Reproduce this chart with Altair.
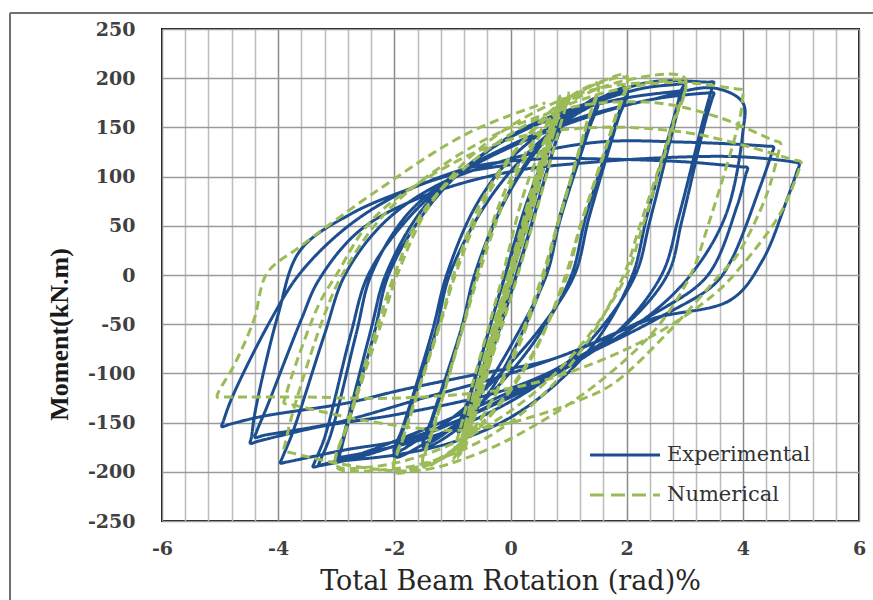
import altair as alt
import pandas as pd

# ---------------- data ----------------
exp_rotation = [
    0.00, 0.25, 0.45, 0.30, 0.00, -0.25, -0.40, -0.25, 0.00,
    0.35, 0.60, 0.40, 0.00, -0.35, -0.55, -0.35, 0.00,
    0.40, 0.75, 0.55, 0.05, -0.35, -0.70, -0.50, 0.00,
    0.45, 0.80, 0.95, 0.80, 0.20, -0.30, -0.75, -0.90, -0.72, -0.15,
    0.40, 0.80, 0.95, 0.78, 0.22, -0.30, -0.78, -0.92, -0.72, -0.12,
    0.35, 0.85, 1.20, 1.50, 1.35, 0.85, 0.60, 0.15, -0.40, -0.95, -1.50, -1.35, -0.85, -0.60,
    -0.10, 0.50, 1.00, 1.50, 1.35, 0.85, 0.62, 0.10, -0.50, -1.00, -1.50, -1.35, -0.85, -0.62,
    -0.15, 0.40, 1.00, 1.50, 2.00, 1.85, 1.30, 1.05, 0.50, -0.20, -0.90, -1.50, -2.00, -1.85, -1.30, -1.05,
    -0.50, 0.10, 0.80, 1.40, 2.00, 1.85, 1.35, 1.10, 0.50, -0.30, -1.00, -1.60, -2.00, -1.85, -1.35, -1.10,
    -0.60, 0.00, 0.80, 1.60, 2.30, 2.90, 3.00, 2.95, 2.85, 2.35, 2.10, 1.50, 0.70, -0.10, -1.00, -2.00, -2.90, -3.00, -2.95, -2.85, -2.35, -2.10,
    -1.50, -0.80, 0.00, 1.00, 2.00, 2.90, 3.00, 2.95, 2.85, 2.40, 2.15, 1.50, 0.70, -0.30, -1.30, -2.20, -2.90, -3.00, -2.95, -2.85, -2.40, -2.15,
    -1.50, -0.70, 0.20, 1.20, 2.40, 3.40, 3.50, 3.47, 3.35, 2.90, 2.60, 1.80, 0.80, -0.40, -1.60, -2.60, -3.30, -3.40, -3.37, -3.20, -2.75, -2.45,
    -1.80, -1.00, 0.00, 1.20, 2.40, 3.40, 3.50, 3.47, 3.35, 2.95, 2.70, 1.90, 0.80, -0.50, -1.70, -2.60, -3.20, -3.30, -3.27, -3.10, -2.65, -2.40,
    -1.80, -1.00, 0.00, 1.20, 2.40, 3.50, 4.00, 4.00, 3.70, 3.10, 2.30, 1.20, 0.00, -1.00, -1.89, -2.87, -3.85, -3.96, -3.93, -3.75, -3.20, -2.85,
    -2.20, -1.30, 0.00, 1.50, 3.00, 4.40, 4.53, 4.50, 4.30, 3.80, 3.50, 2.60, 1.40, 0.00, -1.89, -3.27, -4.35, -4.48, -4.46,
    -4.40, -4.00, -3.62, -2.75, -1.72, -0.64, 0.50, 1.50, 3.00, 3.95, 4.08, 4.05, 3.90, 3.40, 2.60, 1.40, 0.00, -1.50, -3.00, -4.25, -4.40, -4.37,
    -4.20, -3.60, -3.30, -2.60, -1.50, 0.00, 1.50, 3.00, 4.00, 4.85, 4.97, 4.93, 4.75, 4.34, 3.80, 2.41, 0.69, -0.50, -1.89, -2.81, -4.30, -4.85, -4.97, -4.94,
    -4.79, -4.13, -3.62, -2.81, -1.89, -1.00, 0.00,
]
exp_moment = [
    0, 45, 85, 58, 0, -50, -85, -55, 0,
    70, 118, 80, 0, -75, -115, -78, 0,
    85, 145, 105, 5, -78, -140, -100, 0,
    92, 150, 165, 140, 20, -72, -148, -160, -128, -12,
    88, 152, 163, 135, 22, -75, -150, -158, -125, -5,
    85, 150, 170, 180, 152, 60, 0, -65, -122, -158, -175, -148, -58, 0,
    75, 130, 160, 176, 148, 55, 0, -62, -120, -155, -172, -145, -55, 0,
    70, 125, 160, 178, 190, 162, 60, 0, -60, -112, -150, -172, -185, -158, -60, 0,
    65, 112, 150, 172, 186, 158, 58, 0, -55, -108, -145, -168, -180, -154, -58, 0,
    70, 118, 155, 178, 190, 194, 195, 189, 168, 60, 0, -65, -115, -148, -170, -183, -189, -190, -184, -162, -60, 0,
    62, 108, 140, 165, 180, 187, 188, 182, 160, 55, 0, -58, -102, -138, -163, -177, -185, -186, -180, -158, -55, 0,
    68, 112, 148, 172, 196, 196, 196, 190, 165, 60, 0, -60, -100, -135, -165, -185, -194, -195, -190, -165, -60, 0,
    55, 98, 130, 158, 178, 185, 185, 179, 155, 55, 0, -55, -95, -132, -162, -182, -192, -193, -188, -163, -58, 0,
    60, 100, 132, 160, 178, 190, 175, 145, 60, 0, -45, -85, -122, -150, -168, -178, -190, -191, -186, -160, -60, 0,
    52, 90, 118, 135, 135, 131, 130, 124, 90, 15, -10, -42, -78, -115, -141, -154, -169, -171, -165,
    -140, -40, 25, 62, 88, 110, 118, 118, 115, 110, 109, 102, 70, 0, -35, -70, -100, -125, -150, -163, -165, -159,
    -135, -45, -5, 45, 80, 105, 115, 120, 120, 115, 113, 105, 75, 15, -25, -45, -86, -100, -117, -130, -144, -152, -154, -148,
    -124, -46, 2, 49, 83, 102, 112,
]

num_rotation = [
    0.00, 0.30, 0.50, 0.30, 0.00, -0.30, -0.50, -0.30, 0.00,
    0.40, 0.70, 0.45, 0.00, -0.40, -0.70, -0.45, 0.00,
    0.45, 0.85, 0.60, 0.05, -0.40, -0.85, -0.60, -0.05,
    0.45, 0.90, 0.65, 0.10, -0.35, -0.90, -0.65, -0.10,
    0.35, 0.80, 0.55, 0.00, -0.45, -0.80, -0.55, 0.00,
    0.10, 0.55, 0.85, 0.60, 0.15, -0.30, -0.80, -0.55, -0.10,
    0.25, 0.65, 0.90, 0.70, 0.25, -0.20, -0.65, -0.92, -0.70, -0.25,
    0.20, 0.60, 0.80, 0.55, 0.05, -0.45, -0.75, -0.88, -0.60, -0.15,
    0.40, 0.85, 1.00, 0.80, 0.20, -0.30, -0.85, -1.00, -0.80, -0.20,
    0.30, 0.85, 1.20, 1.50, 1.30, 0.80, 0.55, 0.05, -0.50, -1.00, -1.50, -1.30, -0.80, -0.55,
    0.00, 0.60, 1.00, 1.50, 1.30, 0.80, 0.58, 0.05, -0.55, -1.00, -1.50, -1.30, -0.80, -0.58,
    -0.10, 0.50, 1.00, 1.50, 2.00, 1.80, 1.20, 0.95, 0.40, -0.30, -1.00, -1.50, -2.00, -1.80, -1.20, -0.95,
    -0.40, 0.20, 0.80, 1.40, 2.00, 1.80, 1.20, 0.98, 0.40, -0.30, -1.00, -1.50, -2.00, -1.80, -1.20, -0.98,
    -0.50, 0.20, 1.00, 2.00, 3.00, 2.80, 2.20, 1.95, 1.30, 0.50, -0.40, -1.40, -2.20, -3.00, -2.80, -2.20, -1.95,
    -1.40, -0.60, 0.40, 1.40, 2.40, 3.00, 2.80, 2.25, 2.00, 1.30, 0.40, -0.60, -1.60, -2.40, -3.00, -2.80, -2.25, -2.00,
    -1.50, -0.60, 0.50, 1.60, 2.80, 3.90, 4.01, 4.00, 3.95, 3.40, 3.10, 2.50, 1.50, 0.50, -0.50, -1.50, -2.50, -3.75, -3.90, -3.88, -3.75, -3.20, -2.90,
    -2.20, -1.20, 0.00, 1.20, 2.50, 3.60, 4.52, 4.65, 4.62, 4.40, 3.90, 3.60, 2.75, 1.78, 1.20, 0.00, -1.00, -2.50, -3.75, -3.90, -3.88, -3.75, -3.30, -3.00,
    -2.40, -1.40, 0.00, 1.50, 3.00, 4.00, 4.88, 5.00, 4.96, 4.65, 3.96, 3.50, 2.50, 1.20, 0.00, -1.90, -3.60, -4.92, -5.05, -5.02,
    -4.77, -4.42, -4.19, -3.62, -2.29, -0.74, 0.60,
]
num_moment = [
    0, 60, 105, 65, 0, -62, -108, -66, 0,
    85, 145, 95, 0, -88, -148, -98, 0,
    95, 175, 122, 10, -85, -178, -125, -5,
    98, 180, 125, 15, -85, -182, -125, -12,
    75, 165, 115, 0, -95, -168, -118, 0,
    20, 120, 182, 125, 30, -70, -180, -118, -20,
    40, 125, 178, 135, 45, -55, -150, -186, -135, -45,
    50, 135, 172, 120, 20, -100, -160, -185, -130, -35,
    95, 170, 185, 140, 15, -80, -172, -188, -142, -15,
    95, 165, 185, 195, 152, 50, 0, -80, -145, -178, -195, -152, -50, 0,
    90, 150, 180, 193, 150, 48, 0, -85, -150, -180, -193, -150, -48, 0,
    85, 145, 178, 195, 203, 160, 50, 0, -80, -140, -180, -195, -200, -158, -48, 0,
    80, 135, 172, 192, 200, 158, 48, 0, -78, -138, -178, -193, -198, -156, -46, 0,
    75, 135, 175, 198, 200, 155, 45, 0, -70, -125, -165, -190, -198, -195, -152, -45, 0,
    70, 125, 165, 188, 196, 196, 152, 45, 0, -65, -120, -160, -185, -195, -193, -150, -44, 0,
    65, 118, 160, 185, 196, 189, 188, 182, 160, 50, 0, -55, -110, -150, -180, -198, -196, -181, -178, -172, -140, -40, 0,
    60, 110, 150, 172, 175, 160, 137, 134, 126, 80, 20, 0, -56, -110, -127, -150, -158, -148, -132, -130, -125, -100, -30, 0,
    55, 100, 138, 150, 145, 132, 117, 115, 106, 63, 8, -20, -60, -95, -115, -125, -124, -124, -124, -118,
    -93, -46, 2, 29, 86, 144, 175,
]

series_names = ["Experimental", "Numerical"]
series_colors = ["#1d4e8f", "#9bbb59"]
series_dashes = [[1, 0], [9, 5]]

x_grid_values = [-6.0, -5.6, -5.2, -4.8, -4.4, -4.0, -3.6, -3.2, -2.8, -2.4, -2.0,
                 -1.6, -1.2, -0.8, -0.4, 0.0, 0.4, 0.8, 1.2, 1.6, 2.0, 2.4, 2.8,
                 3.2, 3.6, 4.0, 4.4, 4.8, 5.2, 5.6, 6.0]
y_tick_values = [-250, -200, -150, -100, -50, 0, 50, 100, 150, 200, 250]

# ---------------- tables ----------------
exp_df = pd.DataFrame({"rot": exp_rotation, "mom": exp_moment,
                       "series": series_names[0], "step": range(len(exp_rotation))})
num_df = pd.DataFrame({"rot": num_rotation, "mom": num_moment,
                       "series": series_names[1], "step": range(len(num_rotation))})

x_enc = alt.X("rot:Q",
              scale=alt.Scale(domain=[-6, 6], nice=False, zero=False),
              axis=alt.Axis(values=x_grid_values,
                            labelExpr="datum.value % 2 == 0 ? '' + datum.value : ''",
                            title="Total Beam Rotation (rad)%",
                            titleFont="DejaVu Serif", titleFontSize=27,
                            titleFontWeight="normal", titleColor="#262626",
                            titleX=348, titleY=60, titleBaseline="middle",
                            labelFont="DejaVu Serif", labelFontSize=19,
                            labelFontWeight="bold", labelColor="#404040",
                            labelPadding=18, ticks=False, tickSize=0,
                            domain=False, labelOverlap=False, labelFlush=False,
                            gridColor={"condition": {"test": "datum.value % 2 == 0", "value": "#8a8a8a"},
                                       "value": "#bcbcbc"},
                            gridWidth=1.5))
y_enc = alt.Y("mom:Q",
              scale=alt.Scale(domain=[-250, 250], nice=False, zero=False),
              axis=alt.Axis(values=y_tick_values,
                            labelExpr="'' + datum.value",
                            title="Moment(kN.m)",
                            titleFont="Liberation Serif", titleFontSize=26,
                            titleFontWeight="bold", titleColor="#1a1a1a",
                            titleAngle=-90, titleX=-103, titleY=305,
                            titleAlign="center", titleBaseline="middle",
                            labelFont="DejaVu Serif", labelFontSize=19,
                            labelFontWeight="bold", labelColor="#404040",
                            labelPadding=27, ticks=False, tickSize=0,
                            domain=False, labelOverlap=False, labelFlush=False,
                            gridColor="#9a9a9a", gridWidth=1.5))

color_enc = alt.Color("series:N",
                      scale=alt.Scale(domain=series_names, range=series_colors),
                      legend=None)
dash_enc = alt.StrokeDash("series:N",
                          scale=alt.Scale(domain=series_names, range=series_dashes),
                          legend=None)

exp_line = alt.Chart(exp_df).mark_line(strokeWidth=3, strokeJoin="round",
                                       interpolate="catmull-rom").encode(
    x=x_enc, y=y_enc, color=color_enc, strokeDash=dash_enc, order="step:Q")
num_line = alt.Chart(num_df).mark_line(strokeWidth=3, strokeJoin="round",
                                       interpolate="catmull-rom").encode(
    x=x_enc, y=y_enc, color=color_enc, strokeDash=dash_enc, order="step:Q")

# legend drawn inside the plot (lower right), as in the reference
one = alt.Data(values=[{"k": 0}])
leg_exp_line = alt.Chart(one).mark_rule(color=series_colors[0], strokeWidth=3).encode(
    x=alt.value(428), x2=alt.value(498), y=alt.value(426))
leg_num_line = alt.Chart(one).mark_rule(color=series_colors[1], strokeWidth=3,
                                        strokeDash=[14, 7]).encode(
    x=alt.value(428), x2=alt.value(498), y=alt.value(466))
leg_exp_text = alt.Chart(one).mark_text(text=series_names[0], align="left", baseline="middle",
                                        font="DejaVu Serif", fontSize=21, color="#333333").encode(
    x=alt.value(505), y=alt.value(426))
leg_num_text = alt.Chart(one).mark_text(text=series_names[1], align="left", baseline="middle",
                                        font="DejaVu Serif", fontSize=21, color="#333333").encode(
    x=alt.value(505), y=alt.value(466))

# outer chart-area frame
border_left = alt.Chart(one).mark_rule(color="#707070", strokeWidth=2).encode(
    x=alt.value(-152), y=alt.value(-16), y2=alt.value(575))
border_top = alt.Chart(one).mark_rule(color="#707070", strokeWidth=2).encode(
    x=alt.value(-152), x2=alt.value(715), y=alt.value(-16))

chart = alt.layer(exp_line, num_line, leg_exp_line, leg_num_line, leg_exp_text, leg_num_text,
                  border_left, border_top).properties(
    width=697, height=492,
    autosize="none",
    padding={"left": 162, "top": 29, "right": 14, "bottom": 79},
    background="white",
).configure_view(stroke="#111111", strokeWidth=2)

chart.save("out.html", embed_options={"renderer": "svg", "actions": False})
